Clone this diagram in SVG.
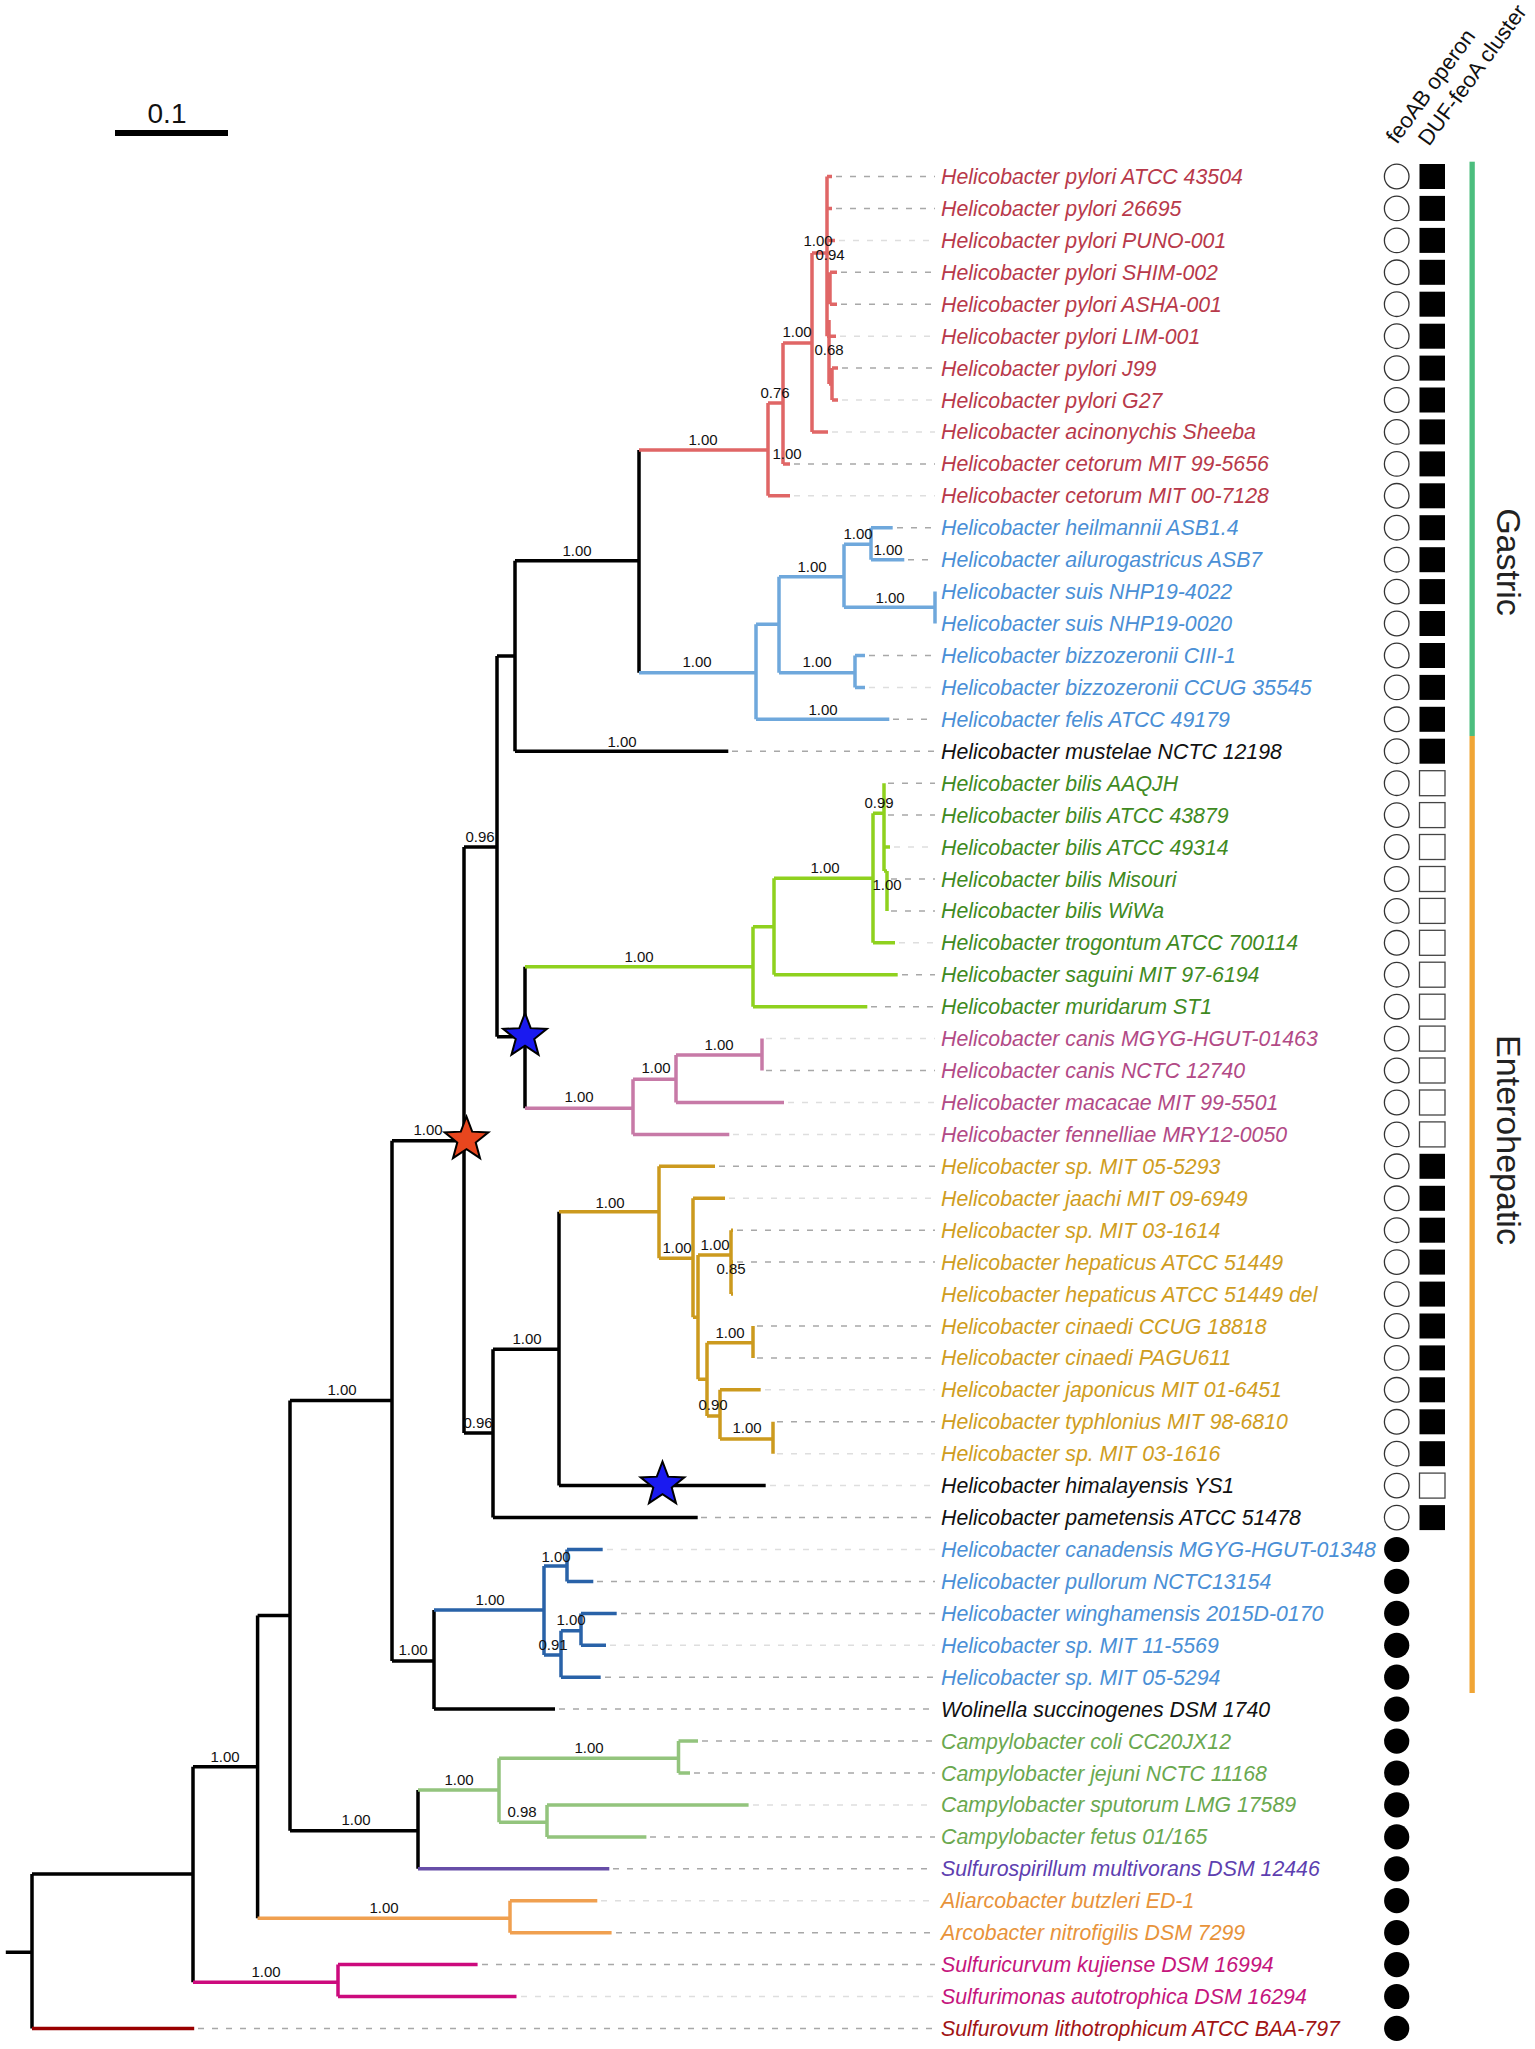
<svg xmlns="http://www.w3.org/2000/svg" width="1535" height="2049" viewBox="0 0 1535 2049">
<style>
.lbl{font-family:"Liberation Sans",Arial,sans-serif;font-style:italic;font-size:21.3px}
.bs{font-family:"Liberation Sans",Arial,sans-serif;font-size:15px;text-anchor:middle;fill:#111}
.hd{font-family:"Liberation Sans",Arial,sans-serif;font-size:22px;fill:#111}
.grp{font-family:"Liberation Sans",Arial,sans-serif;font-size:34px;fill:#222;text-anchor:middle}
.br{fill:none;stroke-width:3.5;stroke-linecap:butt}
.dd{stroke:#a8a8a8;stroke-width:1.5;stroke-dasharray:6 8}
.df{stroke:#dedede;stroke-width:1.5;stroke-dasharray:6 8}
.oc{fill:#fff;stroke:#333;stroke-width:1.3}
.fc{fill:#000}
.fs{fill:#000}
.os{fill:#fff;stroke:#444;stroke-width:1.3}
.star{stroke:#000;stroke-width:2;stroke-linejoin:miter}
.tr{fill:#b8394a}.tb{fill:#4a8fd6}.tk{fill:#111}.tg{fill:#3f8a1f}.tp{fill:#b24a86}.ty{fill:#cf9d1e}
.tc{fill:#6aa84f}.tv{fill:#5e3fb0}.to{fill:#e8933a}.tm{fill:#c5157d}.td{fill:#a11414}
</style>
<defs>
<polygon id="star" points="0,-23 5.70,-7.85 21.87,-7.11 9.23,3.00 13.52,18.61 0,9.7 -13.52,18.61 -9.23,3.00 -21.87,-7.11 -5.70,-7.85"/>
</defs>

<g id="scale-bar">
<rect x="115" y="130" width="113" height="6" fill="#000"/>
<text x="167" y="123" font-family="Liberation Sans, Arial, sans-serif" font-size="28" text-anchor="middle" fill="#111">0.1</text>
</g>

<g id="headers">
<text class="hd" transform="translate(1397,145) rotate(-54)">feoAB operon</text>
<text class="hd" transform="translate(1429,147) rotate(-54)">DUF-feoA cluster</text>
</g>

<g id="group-bars">
<rect x="1469.5" y="161.7" width="5.3" height="574.3" fill="#4cbe7e"/>
<rect x="1469.5" y="736" width="5.3" height="957" fill="#f0a535"/>
<text class="grp" transform="translate(1497,562) rotate(90)">Gastric</text>
<text class="grp" transform="translate(1497,1140) rotate(90)">Enterohepatic</text>
</g>

<g id="connectors">
<g id="leader-lines">
<path class="dd" d="M836,176.5H935M836,208.4H935M841,272.3H935M841,304.2H935M842,368.1H935M794,463.9H935M897,527.7H935M908,559.7H935M869,655.5H935M893,719.3H935M732,751.2H935M888,783.2H935M888,815.1H935M891,879H935M891,910.9H935M902,974.7H935M871,1006.7H935M766,1070.5H935M719,1166.3H935M737,1230.2H935M737,1262.1H935M757,1326H935M757,1357.9H935M777,1421.8H935M701,1517.6H935M597,1581.4H935M621,1613.4H935M605,1677.2H935M559,1709.1H935M702,1741.1H935M694,1773H935M650,1836.9H935M613,1868.8H935M616,1932.7H935M482,1964.6H935M198,2028.4H935"/>
<path class="df" d="M839,240.4H935M840,336.2H935M842,400H935M832,431.9H935M794,495.8H935M869,687.4H935M894,847H935M899,942.8H935M766,1038.6H935M788,1102.5H935M733,1134.4H935M729,1198.3H935M765,1389.8H935M777,1453.7H935M770,1485.6H935M607,1549.5H935M610,1645.3H935M753,1804.9H935M601,1900.7H935M521,1996.5H935"/>
</g>
<path id="br-black" class="br" stroke="#000" d="M5.8,1952.3H32M32,1874V2028.4M32,1874H193M193,1766.7V1982.3M193,1766.7H257.6M257.6,1615.4V1918.3M257.6,1615.4H290M290,1400.5V1830.7M290,1400.5H392M290,1830.7H418M418,1790V1868.8M392,1140.7V1661M392,1140.7H464M392,1661H434M434,1610V1709.1M434,1709.1H555M464,847V1433M464,847H497M464,1433H493M493,1349.3V1517.6M493,1349.3H559M493,1517.6H697.7M559,1211.7V1485.6M559,1485.6H765.7M497,656V1036.7M497,656H515M497,1036.7H525M525,966.7V1108.3M515,560.7V751.2M515,560.7H639M515,751.2H728.3M639,450V672.7"/>
<path id="br-pylori" class="br" stroke="#e06666" d="M639,450H768M768,403V495.8M768,495.8H790M768,403H783M783,343V463.9M783,463.9H790M783,343H812M812,253V431.9M812,431.9H828M812,253H827M827,176.5V336.2M827,176.5H832M827,208.4H832M827,240.4H835M827,288H830M830,272.3V304.2M830,272.3H837M830,304.2H837M827,336.2H836M829,320V384M829,384H832M832,368.1V400M832,368.1H838M832,400H838"/>
<path id="br-gastric" class="br" stroke="#6fa8dc" d="M639,672.7H756M756,624.3V719.3M756,719.3H889.3M756,624.3H779M779,576.7V672.7M779,576.7H844M844,544.3V607.3M844,544.3H871M871,527.7V559.7M871,527.7H892.7M871,559.7H904.3M844,607.3H935M935,591.6V623.5M779,672.7H855M855,655.5V687.4M855,655.5H865M855,687.4H865"/>
<path id="br-bilis" class="br" stroke="#8fd11e" d="M525,966.7H753M753,926.7V1006.7M753,1006.7H867.3M753,926.7H774M774,878.3V974.7M774,974.7H897.7M774,878.3H873M873,813.3V942.8M873,942.8H895M873,813.3H884M884,783.2V871M884,847H890M884,871H887M887,871V910.9"/>
<path id="br-canis" class="br" stroke="#c77aa7" d="M525,1108.3H633M633,1079.3V1134.4M633,1134.4H729.3M633,1079.3H676M676,1055V1102.5M676,1102.5H784M676,1055H762M762,1038.6V1070.5"/>
<path id="br-hepaticus" class="br" stroke="#cc9a1e" d="M559,1211.7H659M659,1166.3V1258.3M659,1166.3H715M659,1258.3H693M693,1198.3V1317.3M693,1198.3H725M693,1317.3H698M698,1255V1379.3M698,1255H731M731,1230.2V1294.1M731,1230.2H733M731,1262.1H733M731,1294.1H733M698,1379.3H707M707,1342.7V1416M707,1342.7H753M753,1326V1357.9M707,1416H720M720,1389.8V1439M720,1389.8H760.7M720,1439H773M773,1421.8V1453.7"/>
<path id="br-pullorum" class="br" stroke="#2962a8" d="M434,1610H544M544,1566V1655M544,1566H567M567,1549.5V1581.4M567,1549.5H602.7M567,1581.4H593.3M544,1655H561M561,1630.7V1677.2M561,1630.7H581M581,1613.4V1645.3M581,1613.4H616.7M581,1645.3H606M561,1677.2H600.7"/>
<path id="br-campy" class="br" stroke="#93c47d" d="M418,1790H499M499,1758.3V1822.3M499,1758.3H678.5M678.5,1741.1V1773M678.5,1741.1H698M678.5,1773H690M499,1822.3H547M547,1804.9V1836.9M547,1804.9H748.6M547,1836.9H646.4"/>
<path id="br-sulfurospirillum" class="br" stroke="#674ea7" d="M418,1868.8H609.3"/>
<path id="br-arcobacter" class="br" stroke="#f0a050" d="M257.6,1918.3H510M510,1900.7V1932.7M510,1900.7H597.3M510,1932.7H611.6"/>
<path id="br-sulfuricurvum" class="br" stroke="#cc0a7d" d="M193,1982.3H338M338,1964.6V1996.5M338,1964.6H477.6M338,1996.5H516.5"/>
<path id="br-sulfurovum" class="br" stroke="#990000" d="M32,2028.4H194.2"/>
</g>

<g id="bootstrap">
<text class="bs" x="703" y="445">1.00</text>
<text class="bs" x="775" y="398">0.76</text>
<text class="bs" x="787" y="459">1.00</text>
<text class="bs" x="797" y="337">1.00</text>
<text class="bs" x="818" y="246">1.00</text>
<text class="bs" x="830" y="260">0.94</text>
<text class="bs" x="829" y="355">0.68</text>
<text class="bs" x="577" y="556">1.00</text>
<text class="bs" x="622" y="747">1.00</text>
<text class="bs" x="697" y="667">1.00</text>
<text class="bs" x="823" y="715">1.00</text>
<text class="bs" x="812" y="572">1.00</text>
<text class="bs" x="858" y="539">1.00</text>
<text class="bs" x="888" y="555">1.00</text>
<text class="bs" x="890" y="603">1.00</text>
<text class="bs" x="817" y="667">1.00</text>
<text class="bs" x="480" y="842">0.96</text>
<text class="bs" x="639" y="962">1.00</text>
<text class="bs" x="825" y="873">1.00</text>
<text class="bs" x="879" y="808">0.99</text>
<text class="bs" x="887" y="890">1.00</text>
<text class="bs" x="579" y="1102">1.00</text>
<text class="bs" x="656" y="1073">1.00</text>
<text class="bs" x="719" y="1050">1.00</text>
<text class="bs" x="428" y="1135">1.00</text>
<text class="bs" x="478" y="1428">0.96</text>
<text class="bs" x="527" y="1344">1.00</text>
<text class="bs" x="610" y="1208">1.00</text>
<text class="bs" x="677" y="1253">1.00</text>
<text class="bs" x="715" y="1250">1.00</text>
<text class="bs" x="731" y="1274">0.85</text>
<text class="bs" x="730" y="1338">1.00</text>
<text class="bs" x="713" y="1410">0.90</text>
<text class="bs" x="747" y="1433">1.00</text>
<text class="bs" x="342" y="1395">1.00</text>
<text class="bs" x="413" y="1655">1.00</text>
<text class="bs" x="490" y="1605">1.00</text>
<text class="bs" x="556" y="1562">1.00</text>
<text class="bs" x="553" y="1650">0.91</text>
<text class="bs" x="571" y="1625">1.00</text>
<text class="bs" x="225" y="1762">1.00</text>
<text class="bs" x="356" y="1825">1.00</text>
<text class="bs" x="459" y="1785">1.00</text>
<text class="bs" x="589" y="1753">1.00</text>
<text class="bs" x="522" y="1817">0.98</text>
<text class="bs" x="384" y="1913">1.00</text>
<text class="bs" x="266" y="1977">1.00</text>
</g>

<g id="star-blue-1"><use href="#star" class="star" x="525" y="1036" fill="#1a1af0"/></g>
<g id="star-red"><use href="#star" class="star" x="466.5" y="1139.5" fill="#e8461e"/></g>
<g id="star-blue-2"><use href="#star" class="star" x="662.5" y="1484.5" fill="#1a1af0"/></g>

<g id="leaf-0"><text class="lbl tr" x="941" y="184">Helicobacter pylori ATCC 43504</text><circle class="oc" cx="1396.7" cy="176.5" r="12.3"/><rect class="fs" x="1419.5" y="164" width="25.5" height="25"/></g>
<g id="leaf-1"><text class="lbl tr" x="941" y="215.9">Helicobacter pylori 26695</text><circle class="oc" cx="1396.7" cy="208.4" r="12.3"/><rect class="fs" x="1419.5" y="195.9" width="25.5" height="25"/></g>
<g id="leaf-2"><text class="lbl tr" x="941" y="247.9">Helicobacter pylori PUNO-001</text><circle class="oc" cx="1396.7" cy="240.4" r="12.3"/><rect class="fs" x="1419.5" y="227.9" width="25.5" height="25"/></g>
<g id="leaf-3"><text class="lbl tr" x="941" y="279.8">Helicobacter pylori SHIM-002</text><circle class="oc" cx="1396.7" cy="272.3" r="12.3"/><rect class="fs" x="1419.5" y="259.8" width="25.5" height="25"/></g>
<g id="leaf-4"><text class="lbl tr" x="941" y="311.7">Helicobacter pylori ASHA-001</text><circle class="oc" cx="1396.7" cy="304.2" r="12.3"/><rect class="fs" x="1419.5" y="291.7" width="25.5" height="25"/></g>
<g id="leaf-5"><text class="lbl tr" x="941" y="343.7">Helicobacter pylori LIM-001</text><circle class="oc" cx="1396.7" cy="336.2" r="12.3"/><rect class="fs" x="1419.5" y="323.7" width="25.5" height="25"/></g>
<g id="leaf-6"><text class="lbl tr" x="941" y="375.6">Helicobacter pylori J99</text><circle class="oc" cx="1396.7" cy="368.1" r="12.3"/><rect class="fs" x="1419.5" y="355.6" width="25.5" height="25"/></g>
<g id="leaf-7"><text class="lbl tr" x="941" y="407.5">Helicobacter pylori G27</text><circle class="oc" cx="1396.7" cy="400" r="12.3"/><rect class="fs" x="1419.5" y="387.5" width="25.5" height="25"/></g>
<g id="leaf-8"><text class="lbl tr" x="941" y="439.4">Helicobacter acinonychis Sheeba</text><circle class="oc" cx="1396.7" cy="431.9" r="12.3"/><rect class="fs" x="1419.5" y="419.4" width="25.5" height="25"/></g>
<g id="leaf-9"><text class="lbl tr" x="941" y="471.4">Helicobacter cetorum MIT 99-5656</text><circle class="oc" cx="1396.7" cy="463.9" r="12.3"/><rect class="fs" x="1419.5" y="451.4" width="25.5" height="25"/></g>
<g id="leaf-10"><text class="lbl tr" x="941" y="503.3">Helicobacter cetorum MIT 00-7128</text><circle class="oc" cx="1396.7" cy="495.8" r="12.3"/><rect class="fs" x="1419.5" y="483.3" width="25.5" height="25"/></g>
<g id="leaf-11"><text class="lbl tb" x="941" y="535.2">Helicobacter heilmannii ASB1.4</text><circle class="oc" cx="1396.7" cy="527.7" r="12.3"/><rect class="fs" x="1419.5" y="515.2" width="25.5" height="25"/></g>
<g id="leaf-12"><text class="lbl tb" x="941" y="567.2">Helicobacter ailurogastricus ASB7</text><circle class="oc" cx="1396.7" cy="559.7" r="12.3"/><rect class="fs" x="1419.5" y="547.2" width="25.5" height="25"/></g>
<g id="leaf-13"><text class="lbl tb" x="941" y="599.1">Helicobacter suis NHP19-4022</text><circle class="oc" cx="1396.7" cy="591.6" r="12.3"/><rect class="fs" x="1419.5" y="579.1" width="25.5" height="25"/></g>
<g id="leaf-14"><text class="lbl tb" x="941" y="631">Helicobacter suis NHP19-0020</text><circle class="oc" cx="1396.7" cy="623.5" r="12.3"/><rect class="fs" x="1419.5" y="611" width="25.5" height="25"/></g>
<g id="leaf-15"><text class="lbl tb" x="941" y="663">Helicobacter bizzozeronii CIII-1</text><circle class="oc" cx="1396.7" cy="655.5" r="12.3"/><rect class="fs" x="1419.5" y="643" width="25.5" height="25"/></g>
<g id="leaf-16"><text class="lbl tb" x="941" y="694.9">Helicobacter bizzozeronii CCUG 35545</text><circle class="oc" cx="1396.7" cy="687.4" r="12.3"/><rect class="fs" x="1419.5" y="674.9" width="25.5" height="25"/></g>
<g id="leaf-17"><text class="lbl tb" x="941" y="726.8">Helicobacter felis ATCC 49179</text><circle class="oc" cx="1396.7" cy="719.3" r="12.3"/><rect class="fs" x="1419.5" y="706.8" width="25.5" height="25"/></g>
<g id="leaf-18"><text class="lbl tk" x="941" y="758.7">Helicobacter mustelae NCTC 12198</text><circle class="oc" cx="1396.7" cy="751.2" r="12.3"/><rect class="fs" x="1419.5" y="738.7" width="25.5" height="25"/></g>
<g id="leaf-19"><text class="lbl tg" x="941" y="790.7">Helicobacter bilis AAQJH</text><circle class="oc" cx="1396.7" cy="783.2" r="12.3"/><rect class="os" x="1419.5" y="770.7" width="25.5" height="25"/></g>
<g id="leaf-20"><text class="lbl tg" x="941" y="822.6">Helicobacter bilis ATCC 43879</text><circle class="oc" cx="1396.7" cy="815.1" r="12.3"/><rect class="os" x="1419.5" y="802.6" width="25.5" height="25"/></g>
<g id="leaf-21"><text class="lbl tg" x="941" y="854.5">Helicobacter bilis ATCC 49314</text><circle class="oc" cx="1396.7" cy="847" r="12.3"/><rect class="os" x="1419.5" y="834.5" width="25.5" height="25"/></g>
<g id="leaf-22"><text class="lbl tg" x="941" y="886.5">Helicobacter bilis Misouri</text><circle class="oc" cx="1396.7" cy="879" r="12.3"/><rect class="os" x="1419.5" y="866.5" width="25.5" height="25"/></g>
<g id="leaf-23"><text class="lbl tg" x="941" y="918.4">Helicobacter bilis WiWa</text><circle class="oc" cx="1396.7" cy="910.9" r="12.3"/><rect class="os" x="1419.5" y="898.4" width="25.5" height="25"/></g>
<g id="leaf-24"><text class="lbl tg" x="941" y="950.3">Helicobacter trogontum ATCC 700114</text><circle class="oc" cx="1396.7" cy="942.8" r="12.3"/><rect class="os" x="1419.5" y="930.3" width="25.5" height="25"/></g>
<g id="leaf-25"><text class="lbl tg" x="941" y="982.2">Helicobacter saguini MIT 97-6194</text><circle class="oc" cx="1396.7" cy="974.7" r="12.3"/><rect class="os" x="1419.5" y="962.2" width="25.5" height="25"/></g>
<g id="leaf-26"><text class="lbl tg" x="941" y="1014.2">Helicobacter muridarum ST1</text><circle class="oc" cx="1396.7" cy="1006.7" r="12.3"/><rect class="os" x="1419.5" y="994.2" width="25.5" height="25"/></g>
<g id="leaf-27"><text class="lbl tp" x="941" y="1046.1">Helicobacter canis MGYG-HGUT-01463</text><circle class="oc" cx="1396.7" cy="1038.6" r="12.3"/><rect class="os" x="1419.5" y="1026.1" width="25.5" height="25"/></g>
<g id="leaf-28"><text class="lbl tp" x="941" y="1078">Helicobacter canis NCTC 12740</text><circle class="oc" cx="1396.7" cy="1070.5" r="12.3"/><rect class="os" x="1419.5" y="1058" width="25.5" height="25"/></g>
<g id="leaf-29"><text class="lbl tp" x="941" y="1110">Helicobacter macacae MIT 99-5501</text><circle class="oc" cx="1396.7" cy="1102.5" r="12.3"/><rect class="os" x="1419.5" y="1090" width="25.5" height="25"/></g>
<g id="leaf-30"><text class="lbl tp" x="941" y="1141.9">Helicobacter fennelliae MRY12-0050</text><circle class="oc" cx="1396.7" cy="1134.4" r="12.3"/><rect class="os" x="1419.5" y="1121.9" width="25.5" height="25"/></g>
<g id="leaf-31"><text class="lbl ty" x="941" y="1173.8">Helicobacter sp. MIT 05-5293</text><circle class="oc" cx="1396.7" cy="1166.3" r="12.3"/><rect class="fs" x="1419.5" y="1153.8" width="25.5" height="25"/></g>
<g id="leaf-32"><text class="lbl ty" x="941" y="1205.8">Helicobacter jaachi MIT 09-6949</text><circle class="oc" cx="1396.7" cy="1198.3" r="12.3"/><rect class="fs" x="1419.5" y="1185.8" width="25.5" height="25"/></g>
<g id="leaf-33"><text class="lbl ty" x="941" y="1237.7">Helicobacter sp. MIT 03-1614</text><circle class="oc" cx="1396.7" cy="1230.2" r="12.3"/><rect class="fs" x="1419.5" y="1217.7" width="25.5" height="25"/></g>
<g id="leaf-34"><text class="lbl ty" x="941" y="1269.6">Helicobacter hepaticus ATCC 51449</text><circle class="oc" cx="1396.7" cy="1262.1" r="12.3"/><rect class="fs" x="1419.5" y="1249.6" width="25.5" height="25"/></g>
<g id="leaf-35"><text class="lbl ty" x="941" y="1301.6">Helicobacter hepaticus ATCC 51449 del</text><circle class="oc" cx="1396.7" cy="1294.1" r="12.3"/><rect class="fs" x="1419.5" y="1281.6" width="25.5" height="25"/></g>
<g id="leaf-36"><text class="lbl ty" x="941" y="1333.5">Helicobacter cinaedi CCUG 18818</text><circle class="oc" cx="1396.7" cy="1326" r="12.3"/><rect class="fs" x="1419.5" y="1313.5" width="25.5" height="25"/></g>
<g id="leaf-37"><text class="lbl ty" x="941" y="1365.4">Helicobacter cinaedi PAGU611</text><circle class="oc" cx="1396.7" cy="1357.9" r="12.3"/><rect class="fs" x="1419.5" y="1345.4" width="25.5" height="25"/></g>
<g id="leaf-38"><text class="lbl ty" x="941" y="1397.3">Helicobacter japonicus MIT 01-6451</text><circle class="oc" cx="1396.7" cy="1389.8" r="12.3"/><rect class="fs" x="1419.5" y="1377.3" width="25.5" height="25"/></g>
<g id="leaf-39"><text class="lbl ty" x="941" y="1429.3">Helicobacter typhlonius MIT 98-6810</text><circle class="oc" cx="1396.7" cy="1421.8" r="12.3"/><rect class="fs" x="1419.5" y="1409.3" width="25.5" height="25"/></g>
<g id="leaf-40"><text class="lbl ty" x="941" y="1461.2">Helicobacter sp. MIT 03-1616</text><circle class="oc" cx="1396.7" cy="1453.7" r="12.3"/><rect class="fs" x="1419.5" y="1441.2" width="25.5" height="25"/></g>
<g id="leaf-41"><text class="lbl tk" x="941" y="1493.1">Helicobacter himalayensis YS1</text><circle class="oc" cx="1396.7" cy="1485.6" r="12.3"/><rect class="os" x="1419.5" y="1473.1" width="25.5" height="25"/></g>
<g id="leaf-42"><text class="lbl tk" x="941" y="1525.1">Helicobacter pametensis ATCC 51478</text><circle class="oc" cx="1396.7" cy="1517.6" r="12.3"/><rect class="fs" x="1419.5" y="1505.1" width="25.5" height="25"/></g>
<g id="leaf-43"><text class="lbl tb" x="941" y="1557">Helicobacter canadensis MGYG-HGUT-01348</text><circle class="fc" cx="1396.7" cy="1549.5" r="12.6"/></g>
<g id="leaf-44"><text class="lbl tb" x="941" y="1588.9">Helicobacter pullorum NCTC13154</text><circle class="fc" cx="1396.7" cy="1581.4" r="12.6"/></g>
<g id="leaf-45"><text class="lbl tb" x="941" y="1620.9">Helicobacter winghamensis 2015D-0170</text><circle class="fc" cx="1396.7" cy="1613.4" r="12.6"/></g>
<g id="leaf-46"><text class="lbl tb" x="941" y="1652.8">Helicobacter sp. MIT 11-5569</text><circle class="fc" cx="1396.7" cy="1645.3" r="12.6"/></g>
<g id="leaf-47"><text class="lbl tb" x="941" y="1684.7">Helicobacter sp. MIT 05-5294</text><circle class="fc" cx="1396.7" cy="1677.2" r="12.6"/></g>
<g id="leaf-48"><text class="lbl tk" x="941" y="1716.6">Wolinella succinogenes DSM 1740</text><circle class="fc" cx="1396.7" cy="1709.1" r="12.6"/></g>
<g id="leaf-49"><text class="lbl tc" x="941" y="1748.6">Campylobacter coli CC20JX12</text><circle class="fc" cx="1396.7" cy="1741.1" r="12.6"/></g>
<g id="leaf-50"><text class="lbl tc" x="941" y="1780.5">Campylobacter jejuni NCTC 11168</text><circle class="fc" cx="1396.7" cy="1773" r="12.6"/></g>
<g id="leaf-51"><text class="lbl tc" x="941" y="1812.4">Campylobacter sputorum LMG 17589</text><circle class="fc" cx="1396.7" cy="1804.9" r="12.6"/></g>
<g id="leaf-52"><text class="lbl tc" x="941" y="1844.4">Campylobacter fetus 01/165</text><circle class="fc" cx="1396.7" cy="1836.9" r="12.6"/></g>
<g id="leaf-53"><text class="lbl tv" x="941" y="1876.3">Sulfurospirillum multivorans DSM 12446</text><circle class="fc" cx="1396.7" cy="1868.8" r="12.6"/></g>
<g id="leaf-54"><text class="lbl to" x="941" y="1908.2">Aliarcobacter butzleri ED-1</text><circle class="fc" cx="1396.7" cy="1900.7" r="12.6"/></g>
<g id="leaf-55"><text class="lbl to" x="941" y="1940.2">Arcobacter nitrofigilis DSM 7299</text><circle class="fc" cx="1396.7" cy="1932.7" r="12.6"/></g>
<g id="leaf-56"><text class="lbl tm" x="941" y="1972.1">Sulfuricurvum kujiense DSM 16994</text><circle class="fc" cx="1396.7" cy="1964.6" r="12.6"/></g>
<g id="leaf-57"><text class="lbl tm" x="941" y="2004">Sulfurimonas autotrophica DSM 16294</text><circle class="fc" cx="1396.7" cy="1996.5" r="12.6"/></g>
<g id="leaf-58"><text class="lbl td" x="941" y="2035.9">Sulfurovum lithotrophicum ATCC BAA-797</text><circle class="fc" cx="1396.7" cy="2028.4" r="12.6"/></g>
</svg>
